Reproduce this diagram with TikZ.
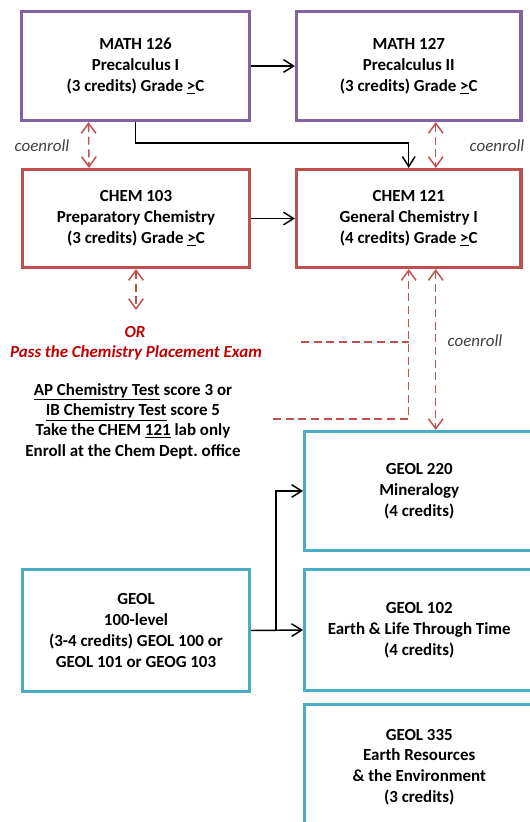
\documentclass[tikz,border=0pt]{standalone}
\usepackage{fontspec}
\setmainfont{Carlito}
\usepackage{tikz}
\usetikzlibrary{arrows.meta,calc}
\definecolor{mathpurple}{RGB}{128,100,162}
\definecolor{chemred}{RGB}{192,80,77}
\definecolor{geolblue}{RGB}{75,172,198}
\definecolor{ordarkred}{RGB}{192,0,0}
\definecolor{notegray}{RGB}{64,64,64}

\begin{document}
\begin{tikzpicture}[x=0.75pt,y=0.75pt,yscale=-1,xscale=1,
  every node/.style={font=\fontsize{12.7}{15.6}\selectfont},
  course/.style={draw, line width=2.4pt, fill=white, align=center, inner sep=0pt, font=\fontsize{12.7}{15.6}\selectfont\bfseries},
  mathbox/.style={course, draw=mathpurple},
  chembox/.style={course, draw=chemred},
  geolbox/.style={course, draw=geolblue},
  coenroll/.style={text=notegray, font=\fontsize{12.7}{15.6}\selectfont\itshape},
  arr/.style={line width=1.1pt, -{Straight Barb[length=7.5pt,width=9.5pt]}},
  altline/.style={chemred, line width=1.1pt, dash pattern=on 6pt off 3.5pt},
  coarr/.style={altline, {Straight Barb[length=7.5pt,width=11pt]}-{Straight Barb[length=7.5pt,width=11pt]}}]
%uncomment if require: \path (0,822); %set diagram left start at 0, and has height of 822
\useasboundingbox (0,0) rectangle (530,822);
\clip (0,0) rectangle (530,822);
% Course Boxes
\node[mathbox, minimum width=171pt, minimum height=81.75pt] (m126) at (135.5,66) {MATH 126\\ Precalculus I\\ (3 credits) Grade \underline{>}C};
\node[mathbox, minimum width=168.4pt, minimum height=81.75pt] (m127) at (408.75,66) {MATH 127\\ Precalculus II\\ (3 credits) Grade \underline{>}C};
\node[chembox, minimum width=170.25pt, minimum height=73.5pt] (c103) at (136,218.5) {CHEM 103\\ Preparatory Chemistry\\ (3 credits) Grade \underline{>}C};
\node[chembox, minimum width=168.4pt, minimum height=73.5pt] (c121) at (408.75,218.5) {CHEM 121\\ General Chemistry I\\ (4 credits) Grade \underline{>}C};
\node[geolbox, minimum width=170.25pt, minimum height=91.5pt] (g100) at (136,630.5) {GEOL\\ 100-level\\ (3-4 credits) GEOL 100 or\\ GEOL 101 or GEOG 103};
\node[geolbox, minimum width=172pt, minimum height=89.25pt] (g220) at (419.25,491) {GEOL 220\\ Mineralogy\\ (4 credits)};
\node[geolbox, minimum width=172pt, minimum height=90.75pt] (g102) at (419.25,630) {GEOL 102\\ Earth \& Life Through Time\\ (4 credits)};
\node[geolbox, minimum width=172pt, minimum height=94pt] (g335) at (419.25,767) {GEOL 335\\ Earth Resources\\ \& the Environment\\ (3 credits)};
% Text Node
\node[coenroll] (coL) at (42,146) {coenroll};
% Text Node
\node[coenroll] (coR) at (497,146) {coenroll};
% Text Node
\node[coenroll] (coM) at (475,341) {coenroll};
% Text Node
\node[text=ordarkred, font=\fontsize{12.7}{15.6}\selectfont\bfseries\itshape] (or) at (135,332) {OR};
% Text Node
\node[text=ordarkred, font=\fontsize{12.7}{15.6}\selectfont\bfseries\itshape] (exam) at (136,353) {Pass the Chemistry Placement Exam};
% Text Node
\node[align=center, font=\fontsize{12.7}{15.3}\selectfont\bfseries] (labonly) at (133,421) {\underline{AP Chemistry Test} score 3 or\\ \underline{IB Chemistry Test} score 5\\ Take the CHEM \underline{121} lab only\\ Enroll at the Chem Dept.\ office};
% Free Ends
\coordinate (orin) at (136,310);
\coordinate (examend) at (301,342);
\coordinate (labend) at (273,419);
\coordinate (cotop) at ($(c121.south)+(27,0)$);
\coordinate (split) at (276,630);
%Straight Lines
\draw[arr] (m126.east) -- (m127.west);
\draw[arr] (m126.south) -- ++(0,21) -| (c121.north);
\draw[arr] (c103.east) -- (c121.west);
%Dashed Lines
\draw[coarr] ($(m126.south)+(-47,0)$) -- ($(c103.north)+(-47,0)$);
\draw[coarr] ($(m127.south)+(27,0)$) -- ($(c121.north)+(27,0)$);
\draw[coarr] (c103.south) -- (orin);
\draw[altline] (examend) -- (examend -| c121.south);
\draw[altline, -{Straight Barb[length=7.5pt,width=11pt]}] (labend) -- (labend -| c121.south) -- (c121.south);
\draw[coarr] (cotop) -- (cotop |- g220.north);
%Straight Lines
\draw[arr] (g100.east) -- (g102.west);
\draw[arr] (split) |- (g220.west);
\end{tikzpicture}
\end{document}
